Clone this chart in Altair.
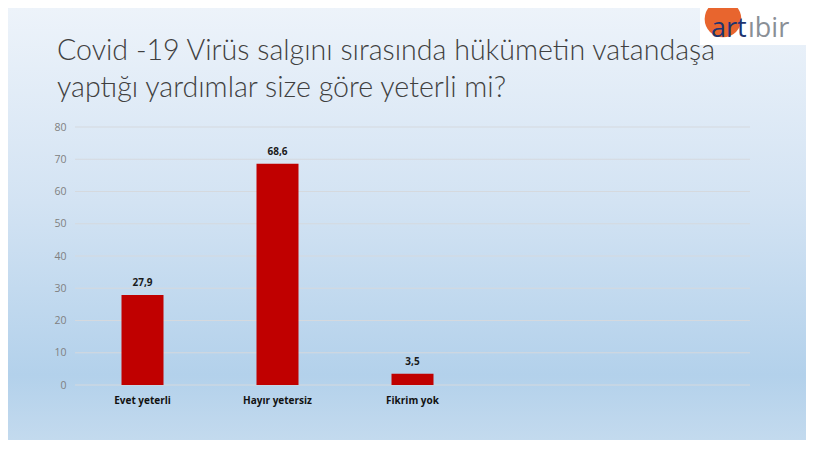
import altair as alt
import pandas as pd

categories = ["Evet yeterli", "Hayır yetersiz", "Fikrim yok"]
values = [27.9, 68.6, 3.5]
labels = ["27,9", "68,6", "3,5"]
domain_slots = categories + ["_e1", "_e2"]
y_ticks = list(range(0, 81, 10))
title_line1 = "Covid -19 Virüs salgını sırasında hükümetin vatandaşa"
title_line2 = "yaptığı yardımlar size göre yeterli mi?"

df = pd.DataFrame({"cat": categories, "val": values, "lab": labels})
grid_df = pd.DataFrame({"val": y_ticks})

W, H = 675, 258
PL, PT, PR, PB = 67, 119, 56, 55

xs = alt.X("cat:N", sort=domain_slots,
           scale=alt.Scale(domain=domain_slots, paddingInner=0, paddingOuter=0),
           axis=alt.Axis(title=None, labelAngle=0, ticks=False, domain=False, grid=False,
                         zindex=2, labelPadding=10, labelFont="Open Sans", labelFontWeight="bold",
                         labelFontSize=10, labelColor="#111111",
                         labelExpr="indexof(datum.label, '_e') == 0 ? '' : datum.label"))
ys = alt.Y("val:Q", scale=alt.Scale(domain=[0, 80]),
           axis=alt.Axis(title=None, values=y_ticks, ticks=False, domain=False, grid=False,
                         labelOverlap=False, labelFlush=False,
                         zindex=2, labelPadding=9, labelFont="Open Sans", labelFontSize=10.5,
                         labelColor="#808080"))

one = pd.DataFrame({"a": [0]})

bg = alt.Chart(one).mark_rect(
    color=alt.LinearGradient(gradient="linear", x1=0, x2=0, y1=0, y2=1,
                             stops=[alt.GradientStop(color="#edf3fa", offset=0),
                                    alt.GradientStop(color="#d3e3f3", offset=0.45),
                                    alt.GradientStop(color="#b3d1eb", offset=0.85),
                                    alt.GradientStop(color="#c3daee", offset=1)])
).encode(x=alt.value(-PL), x2=alt.value(W + PR), y=alt.value(-PT), y2=alt.value(H + PB))

grid = alt.Chart(grid_df).mark_rule(color="#d5d9de", strokeWidth=1).encode(
    y=ys, x=alt.value(0), x2=alt.value(W))

bars = alt.Chart(df).mark_bar(size=42, color="#c00000").encode(x=xs, y=ys)
text = alt.Chart(df).mark_text(dy=-7, baseline="bottom", font="Open Sans",
                               fontWeight="bold", fontSize=10, color="#1a1a1a").encode(
    x=xs, y=ys, text="lab:N")

def title_text(s, yv):
    return alt.Chart(pd.DataFrame({"t": [s]})).mark_text(
        align="left", baseline="alphabetic", font="Lato", fontSize=28.6, fontWeight=300,
        color="#404040"
    ).encode(x=alt.value(-18), y=alt.value(yv), text="t:N")

t1 = title_text(title_line1, -67)
t2 = title_text(title_line2, -30)

logo_box = alt.Chart(one).mark_rect(color="white").encode(
    x=alt.value(625), x2=alt.value(W + PR), y=alt.value(-PT), y2=alt.value(-82))
logo_circle = alt.Chart(one).mark_point(
    filled=True, shape="circle", size=1350, color="#e8652e", opacity=1).encode(
    x=alt.value(648), y=alt.value(-108))
logo_t1 = alt.Chart(pd.DataFrame({"t": ["art"]})).mark_text(
    align="left", baseline="alphabetic", font="Open Sans", fontSize=27, color="#1d3470").encode(
    x=alt.value(636), y=alt.value(-90), text="t:N")
logo_t2 = alt.Chart(pd.DataFrame({"t": ["ıbir"]})).mark_text(
    align="left", baseline="alphabetic", font="Open Sans", fontSize=27, color="#8a8f96").encode(
    x=alt.value(673), y=alt.value(-90), text="t:N")

chart = alt.layer(bg, grid, bars, text, t1, t2, logo_box, logo_circle, logo_t1, logo_t2).properties(
    width=W, height=H,
    autosize=alt.AutoSizeParams(type="none"),
    padding={"left": PL, "top": PT, "right": PR, "bottom": PB},
    background="#d3e3f3"
).configure_view(stroke=None)

chart.save("out.html", embed_options={"renderer": "svg", "actions": False})
